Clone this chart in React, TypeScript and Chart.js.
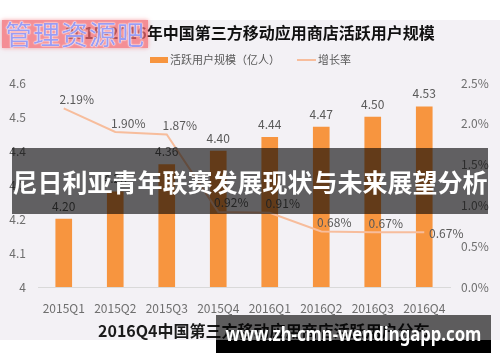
import React, { useEffect, useRef } from "react";
import { Chart, registerables } from "chart.js";

Chart.register(...registerables);

const categories = ["2015Q1", "2015Q2", "2015Q3", "2015Q4", "2016Q1", "2016Q2", "2016Q3", "2016Q4"];
const activeUsers = [4.2, 4.28, 4.36, 4.4, 4.44, 4.47, 4.5, 4.53];
const growthRate = [2.19, 1.9, 1.87, 0.92, 0.91, 0.68, 0.67, 0.67];
const titleText = "2015-2016年中国第三方移动应用商店活跃用户规模";
const barLabel = "活跃用户规模（亿人）";
const lineLabel = "增长率";
const subtitleText = "2016Q4中国第三方移动应用商店活跃用户分布";
const bannerText = "尼日利亚青年联赛发展现状与未来展望分析";
const logoText = "管理资源吧";
const urlText = "www.zh-cmn-wendingapp.com";

const BAR_COLOR = "#f7953f";
const LINE_COLOR = "#f7bd9c";
const FONT = "'Noto Sans CJK SC', 'Noto Sans', sans-serif";

const overlayPlugin = {
  id: "overlayText",
  afterDatasetsDraw(chart: any) {
    const ctx = chart.ctx;
    ctx.save();
    ctx.font = `12px ${FONT}`;
    ctx.fillStyle = "#595959";
    ctx.textAlign = "center";
    ctx.textBaseline = "middle";
    const barMeta = chart.getDatasetMeta(0);
    barMeta.data.forEach((el: any, i: number) => {
      ctx.fillText(activeUsers[i].toFixed(2), el.x, el.y - 13);
    });
    const lineMeta = chart.getDatasetMeta(1);
    lineMeta.data.forEach((el: any, i: number) => {
      const last = i === lineMeta.data.length - 1;
      ctx.fillText(growthRate[i].toFixed(2) + "%", el.x + (last ? 22 : 13), el.y + (last ? 1 : -9));
    });
    ctx.restore();
  },
  afterDraw(chart: any) {
    const ctx = chart.ctx;
    ctx.save();
    ctx.fillStyle = "#111";
    ctx.font = `bold 16px ${FONT}`;
    ctx.textAlign = "center";
    ctx.textBaseline = "middle";
    ctx.fillText(titleText, 250, 33);
    // legend
    ctx.fillStyle = BAR_COLOR;
    ctx.fillRect(150, 57, 18, 6);
    ctx.font = `11px ${FONT}`;
    ctx.textAlign = "left";
    ctx.fillStyle = "#595959";
    ctx.fillText(barLabel, 170, 60);
    ctx.strokeStyle = LINE_COLOR;
    ctx.lineWidth = 2;
    ctx.beginPath();
    ctx.moveTo(297, 60);
    ctx.lineTo(316, 60);
    ctx.stroke();
    ctx.fillText(lineLabel, 318, 60);
    // subtitle
    ctx.fillStyle = "#1a1a1a";
    ctx.font = `bold 16px ${FONT}`;
    ctx.fillText(subtitleText, 98, 331);
    ctx.restore();
  },
};

export default function App() {
  const canvasRef = useRef<HTMLCanvasElement | null>(null);
  useEffect(() => {
    if (!canvasRef.current) return;
    const chart = new Chart(canvasRef.current, {
      type: "bar",
      data: {
        labels: categories,
        datasets: [
          {
            type: "bar",
            label: barLabel,
            data: activeUsers,
            backgroundColor: BAR_COLOR,
            barThickness: 16,
            yAxisID: "y",
            order: 2,
          },
          {
            type: "line",
            label: lineLabel,
            data: growthRate,
            borderColor: LINE_COLOR,
            borderWidth: 2,
            pointRadius: 0,
            tension: 0,
            yAxisID: "y1",
            order: 1,
          } as any,
        ],
      },
      options: {
        responsive: false,
        animation: false,
        devicePixelRatio: 1,
        layout: { padding: { top: 83, bottom: 45, left: 0, right: 0 } },
        plugins: { legend: { display: false }, title: { display: false }, tooltip: { enabled: false } },
        scales: {
          x: {
            grid: { display: false },
            border: { display: true, color: "#d9d9d9", width: 1 },
            ticks: { color: "#6e6e6e", font: { size: 12, family: FONT }, padding: 6, maxRotation: 0 },
            afterFit: (s: any) => { s.height = 30; },
          },
          y: {
            position: "left",
            min: 4,
            max: 4.6,
            grid: { display: false, drawTicks: false },
            border: { display: false },
            ticks: {
              stepSize: 0.1,
              color: "#6e6e6e",
              font: { size: 12, family: FONT },
              padding: 12,
              callback: (v: any) => (Math.abs(v - 4) < 1e-9 ? "4" : Number(v).toFixed(1)),
            },
            afterFit: (s: any) => { s.width = 38; },
          },
          y1: {
            position: "right",
            min: 0,
            max: 2.5,
            grid: { display: false, drawTicks: false },
            border: { display: false },
            ticks: {
              stepSize: 0.5,
              color: "#6e6e6e",
              font: { size: 12, family: FONT },
              padding: 11,
              callback: (v: any) => Number(v).toFixed(1) + "%",
            },
            afterFit: (s: any) => { s.width = 50; },
          },
        },
      },
      plugins: [overlayPlugin],
    });
    return () => chart.destroy();
  }, []);

  return (
    <div style={{ position: "absolute", left: 0, top: 0, width: 500, height: 362, background: "#ffffff", overflow: "hidden" }}>
      <div style={{ position: "absolute", left: 0, top: 20, width: 500, height: 320, background: "#f3f1f5" }} />
      <canvas ref={canvasRef} width={500} height={362} style={{ position: "absolute", left: 0, top: 0, width: 500, height: 362 }} />
      <div
        style={{
          position: "absolute", left: 2, top: 20, width: 146, height: 28,
          background: "rgba(244,104,112,0.72)", boxShadow: "0 0 4px rgba(244,104,112,0.6)",
          color: "#9c9cf2", fontFamily: FONT, fontSize: 27, lineHeight: "28px", letterSpacing: 1,
          textAlign: "center", whiteSpace: "nowrap",
          textShadow: "0 0 1px #fff, 0 0 1px #fff, 0 0 2px #fff",
        }}
      >
        {logoText}
      </div>
      <div
        style={{
          position: "absolute", left: 12, top: 148, width: 476, height: 66,
          background: "rgba(0,0,0,0.6)", color: "#ffffff", fontFamily: FONT, fontWeight: "bold",
          fontSize: 25, lineHeight: "66px", textAlign: "center", whiteSpace: "nowrap",
        }}
      >
        {bannerText}
      </div>
      <div style={{ position: "absolute", left: 216, top: 315, width: 275, height: 25, background: "rgba(0,0,0,0.62)" }} />
      <div style={{ position: "absolute", left: 216, top: 340, width: 275, height: 13, background: "#000" }} />
      <div
        style={{
          position: "absolute", left: 216, top: 315, width: 275, height: 38,
          display: "flex", justifyContent: "center", alignItems: "center",
        }}
      >
        <span
          style={{
            display: "inline-block", color: "#fff", whiteSpace: "nowrap",
            fontFamily: "'Noto Sans', sans-serif", fontWeight: "bold", fontSize: 19, lineHeight: "36px",
            transform: "scaleX(0.88)", transformOrigin: "50% 50%", flexShrink: 0,
          }}
        >
          {urlText}
        </span>
      </div>
    </div>
  );
}
